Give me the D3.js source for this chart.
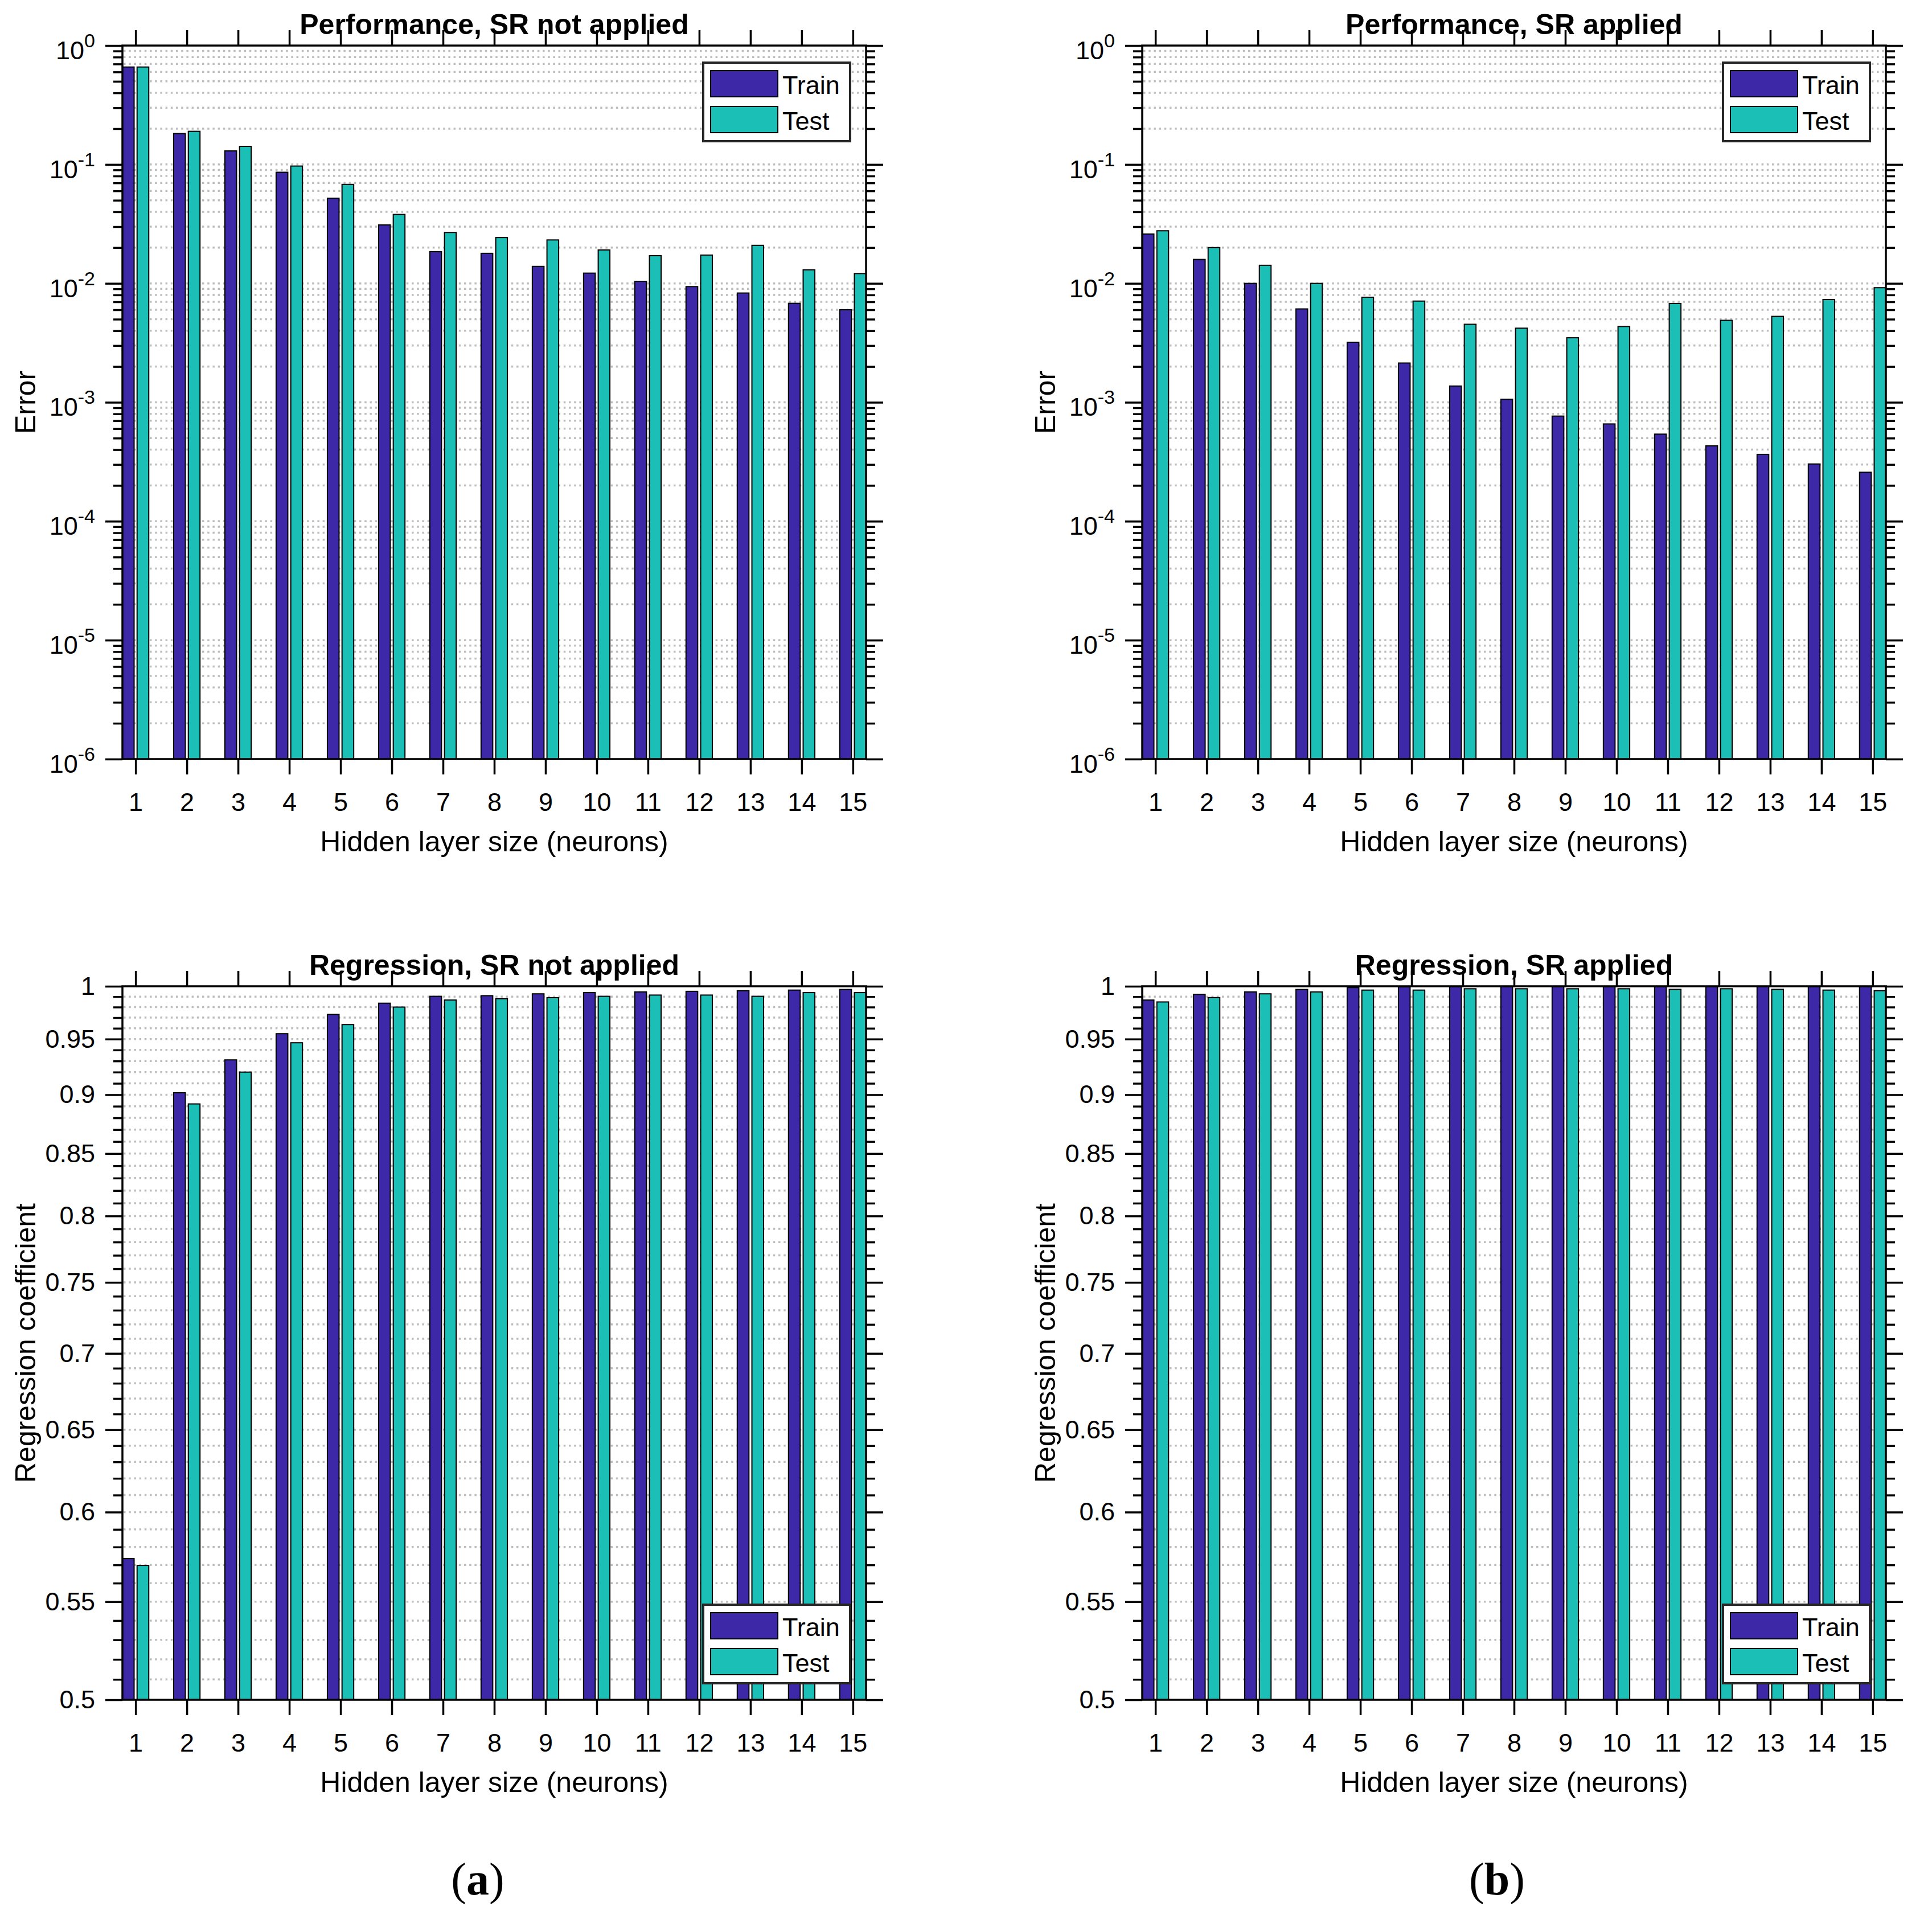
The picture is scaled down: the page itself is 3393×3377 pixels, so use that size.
<!DOCTYPE html>
<html>
<head>
<meta charset="utf-8">
<script src="https://cdn.jsdelivr.net/npm/d3@7"></script>
<style>
  body { margin: 0; background: #fff; }
  text { font-family: "Liberation Sans", Arial, Helvetica, sans-serif; fill: #000; }
</style>
</head>
<body>
<svg id="figure" width="3393" height="3377"></svg>
<script>
/* global d3, document */

'use strict';

const neurons = [1, 2, 3, 4, 5, 6, 7, 8, 9, 10, 11, 12, 13, 14, 15];

// Performance (error), SR not applied
const errTrainPlain = [0.66, 0.182, 0.130, 0.086, 0.052, 0.031, 0.0185, 0.0179, 0.0139,
  0.0122, 0.0104, 0.0094, 0.0083, 0.0068, 0.0060];
const errTestPlain = [0.66, 0.19, 0.142, 0.097, 0.068, 0.038, 0.0268, 0.0243, 0.0232,
  0.0191, 0.0171, 0.0173, 0.0209, 0.0130, 0.0121];

// Performance (error), SR applied
const errTrainSR = [0.026, 0.0159, 0.0100, 0.0061, 0.0032, 0.00214, 0.00137, 0.00106,
  0.000766, 0.000658, 0.00054, 0.00043, 0.000365, 0.000303, 0.000258];
const errTestSR = [0.0277, 0.020, 0.0142, 0.0100, 0.00765, 0.0071, 0.00453, 0.0042,
  0.00349, 0.00434, 0.00678, 0.00489, 0.00528, 0.00732, 0.0092];

// Regression coefficient, SR not applied
const regTrainPlain = [0.5735, 0.9017, 0.931, 0.955, 0.973, 0.9837, 0.9903, 0.9909,
  0.9927, 0.9939, 0.9945, 0.9951, 0.9957, 0.9963, 0.9969];
const regTestPlain = [0.5697, 0.892, 0.920, 0.9466, 0.9635, 0.980, 0.9867, 0.9879,
  0.989, 0.9903, 0.9915, 0.9915, 0.9903, 0.9939, 0.9939];

// Regression coefficient, SR applied
const regTrainSR = [0.9867, 0.9921, 0.9945, 0.9969, 0.9988, 0.9994, 0.9997, 0.9998,
  0.9998, 0.9998, 0.9998, 0.9999, 0.9999, 0.9999, 0.9999];
const regTestSR = [0.9849, 0.9891, 0.9927, 0.9945, 0.9963, 0.9963, 0.9976, 0.9976,
  0.9976, 0.9976, 0.997, 0.9976, 0.997, 0.9963, 0.9957];

const seriesNames = ['Train', 'Test'];
const errorTicks = [1e-6, 1e-5, 1e-4, 1e-3, 1e-2, 1e-1, 1];
const regressionTicks = [0.5, 0.55, 0.6, 0.65, 0.7, 0.75, 0.8, 0.85, 0.9, 0.95, 1];
const regressionMinor = d3.range(50, 101).map(v => v / 100);

const colors = ['#3d28a8', '#1bbfb5'];

class Panel {
  constructor(svg, spec) {
    this.spec = spec;
    this.g = svg.append('g');

    this.left = spec.col === 0 ? 215 : 2006;
    this.right = this.left + 1306;
    this.top = spec.row === 0 ? 80 : 1732;
    this.bottom = this.top + 1253;

    // MATLAB grouped bars: 2 series, each 0.228 wide, tight x limits
    this.barWidth = 0.228;
    this.offsets = [-0.257, 0.029];

    this.x = d3.scaleLinear()
      .domain([1 - 0.257, 15 + 0.257])
      .range([this.left, this.right]);

    this.y = d3.scaleLog()
      .domain(spec.log ? [1e-6, 1] : [0.5, 1])
      .range([this.bottom, this.top]);
  }

  minorTicks() {
    if (this.spec.log)
      return this.y.ticks().filter(v => !errorTicks.some(t => Math.abs(t - v) / t < 1e-6));
    return regressionMinor.filter(v => !regressionTicks.some(t => Math.abs(t - v) < 1e-6));
  }

  draw() {
    const g = this.g;
    const x = this.x;
    const y = this.y;
    const major = this.spec.log ? errorTicks : regressionTicks;
    const minor = this.minorTicks();

    // grid
    const gridVals = major.concat(minor).filter(v => v > y.domain()[0] && v < y.domain()[1]);
    g.append('g')
      .selectAll('line')
      .data(gridVals)
      .enter().append('line')
      .attr('x1', this.left + 2)
      .attr('x2', this.right)
      .attr('y1', d => y(d))
      .attr('y2', d => y(d))
      .attr('stroke', '#bdbdbd')
      .attr('stroke-width', 3.5)
      .attr('stroke-dasharray', '3.5 5.7');

    // bars
    const base = y.domain()[0];
    this.spec.series.forEach((values, s) => {
      g.append('g')
        .attr('fill', colors[s])
        .attr('stroke', '#000')
        .attr('stroke-width', 2)
        .selectAll('rect')
        .data(values.map((v, i) => ({ n: neurons[i], v })))
        .enter().append('rect')
        .attr('x', d => x(d.n + this.offsets[s]))
        .attr('width', d => x(d.n + this.offsets[s] + this.barWidth) - x(d.n + this.offsets[s]))
        .attr('y', d => y(d.v))
        .attr('height', d => y(base) - y(d.v));
    });

    // title (drawn before ticks, top ticks cross it as in the original)
    g.append('text')
      .attr('x', (this.left + this.right) / 2)
      .attr('y', this.top - 20)
      .attr('text-anchor', 'middle')
      .style('font-size', '50px')
      .style('font-weight', 'bold')
      .text(this.spec.title);

    this.axes(major, minor);
    this.legend();
  }

  axes(major, minor) {
    const g = this.g;
    const x = this.x;
    const y = this.y;
    const log = this.spec.log;
    const style = sel => {
      sel.select('.domain').remove();
      sel.selectAll('.tick line').attr('stroke', '#000').attr('stroke-width', 3.5);
    };

    const left = g.append('g')
      .attr('transform', `translate(${this.left},0)`)
      .call(d3.axisLeft(y).tickValues(major).tickSize(30).tickPadding(18)
        .tickFormat(d => log ? '' : String(d)))
      .call(style);

    left.selectAll('.tick text')
      .style('font-size', '45px')
      .attr('fill', '#000');

    if (log) {
      left.selectAll('.tick text')
        .attr('dy', '0.52em')
        .each(function(d) {
          const t = d3.select(this);
          t.append('tspan').text('10');
          t.append('tspan')
            .attr('dy', -21)
            .style('font-size', '34px')
            .text(String(Math.round(Math.log10(d))));
        });
    }

    g.append('g')
      .attr('transform', `translate(${this.left},0)`)
      .call(d3.axisLeft(y).tickValues(minor).tickSize(16).tickFormat(''))
      .call(style);

    g.append('g')
      .attr('transform', `translate(${this.right},0)`)
      .call(d3.axisRight(y).tickValues(major).tickSize(30).tickFormat(''))
      .call(style);

    g.append('g')
      .attr('transform', `translate(${this.right},0)`)
      .call(d3.axisRight(y).tickValues(minor).tickSize(16).tickFormat(''))
      .call(style);

    g.append('g')
      .attr('transform', `translate(0,${this.bottom})`)
      .call(d3.axisBottom(x).tickValues(neurons).tickSize(27).tickPadding(32)
        .tickFormat(d3.format('d')))
      .call(style)
      .selectAll('.tick text')
      .style('font-size', '45px')
      .attr('fill', '#000');

    g.append('g')
      .attr('transform', `translate(0,${this.top})`)
      .call(d3.axisTop(x).tickValues(neurons).tickSize(27).tickFormat(''))
      .call(style);

    // box
    g.append('rect')
      .attr('x', this.left)
      .attr('y', this.top)
      .attr('width', this.right - this.left)
      .attr('height', this.bottom - this.top)
      .attr('fill', 'none')
      .attr('stroke', '#000')
      .attr('stroke-width', 3.5);

    g.append('text')
      .attr('x', (this.left + this.right) / 2)
      .attr('y', this.bottom + 162)
      .attr('text-anchor', 'middle')
      .style('font-size', '50px')
      .text('Hidden layer size (neurons)');

    g.append('text')
      .attr('transform', `translate(${this.left - 153},${(this.top + this.bottom) / 2}) rotate(-90)`)
      .attr('text-anchor', 'middle')
      .style('font-size', '50px')
      .text(log ? 'Error' : 'Regression coefficient');
  }

  legend() {
    const w = 258;
    const h = 138;
    const lx = this.right - 28 - w;
    const ly = this.spec.legendTop ? this.top + 30 : this.bottom - 29 - h;

    const legend = this.g.append('g')
      .attr('class', 'legend')
      .attr('transform', `translate(${lx},${ly})`);

    legend.append('rect')
      .attr('width', w)
      .attr('height', h)
      .attr('fill', '#fff')
      .attr('stroke', '#262626')
      .attr('stroke-width', 4);

    seriesNames.forEach((name, i) => {
      legend.append('rect')
        .attr('x', 13)
        .attr('y', 14 + i * 63)
        .attr('width', 118)
        .attr('height', 46)
        .attr('fill', colors[i])
        .attr('stroke', '#000')
        .attr('stroke-width', 2);

      legend.append('text')
        .attr('x', 139)
        .attr('y', 55 + i * 63)
        .style('font-size', '45px')
        .text(name);
    });
  }

  static draw(svg, spec) {
    return new this(svg, spec).draw();
  }
}

function caption(svg, x, letter) {
  const t = svg.append('text')
    .attr('x', x)
    .attr('y', 3327)
    .attr('text-anchor', 'middle')
    .style('font-family', '"Liberation Serif", "Times New Roman", serif')
    .style('font-size', '80px');
  t.append('tspan').text('(');
  t.append('tspan').style('font-weight', 'bold').text(letter);
  t.append('tspan').text(')');
}

function main() {
  const svg = d3.select('#figure');

  svg.append('rect')
    .attr('width', 3393)
    .attr('height', 3377)
    .attr('fill', '#fff');

  Panel.draw(svg, {
    title: 'Performance, SR not applied', row: 0, col: 0, log: true,
    legendTop: true, series: [errTrainPlain, errTestPlain]
  });
  Panel.draw(svg, {
    title: 'Performance, SR applied', row: 0, col: 1, log: true,
    legendTop: true, series: [errTrainSR, errTestSR]
  });
  Panel.draw(svg, {
    title: 'Regression, SR not applied', row: 1, col: 0, log: false,
    legendTop: false, series: [regTrainPlain, regTestPlain]
  });
  Panel.draw(svg, {
    title: 'Regression, SR applied', row: 1, col: 1, log: false,
    legendTop: false, series: [regTrainSR, regTestSR]
  });

  caption(svg, 839, 'a');
  caption(svg, 2629, 'b');
}

if (document.readyState !== 'loading')
  main();
else
  document.addEventListener('DOMContentLoaded', main);
</script>
</body>
</html>
